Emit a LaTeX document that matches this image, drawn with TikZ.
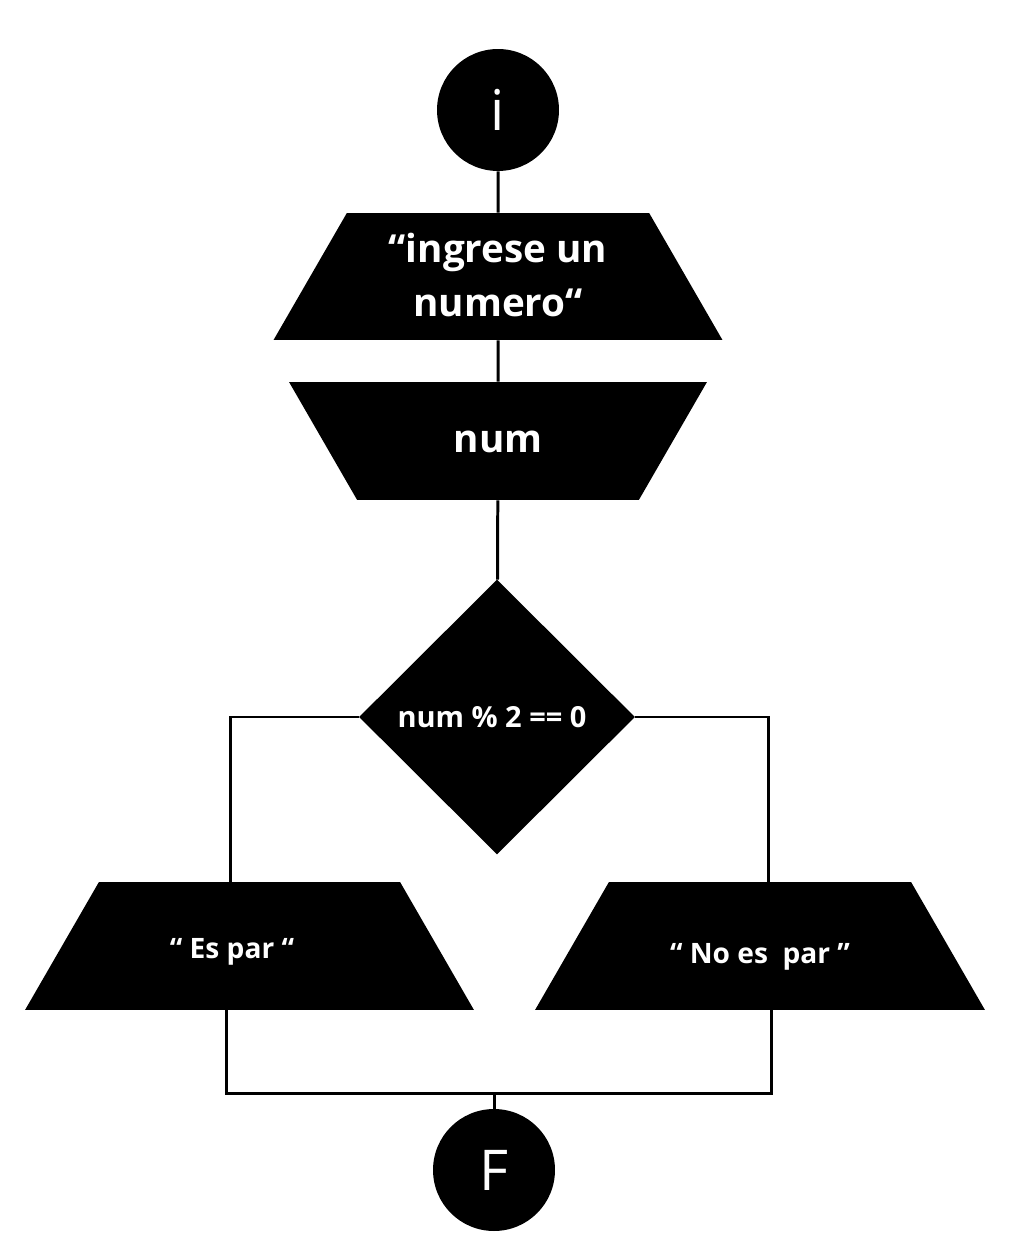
\documentclass[tikz,border=0pt]{standalone}
\usepackage{fontspec}
\setmainfont{Open Sans}
\usetikzlibrary{shapes.geometric, positioning}

\tikzset{
  terminal/.style={circle, fill=black, text=white, minimum size=2.44cm, inner sep=0pt, font=\fontsize{32}{38}\selectfont},
  datos/.style={trapezium, trapezium angle=60, trapezium stretches body=true, fill=black, text=white, inner sep=0pt, font=\bfseries\fontsize{22}{30}\selectfont},
  decision/.style={diamond, fill=black, text=white, inner sep=0pt, minimum width=5.52cm, minimum height=5.5cm, font=\bfseries\fontsize{16.5}{20}\selectfont},
  linea/.style={line width=1.7pt}
}

\begin{document}
\begin{tikzpicture}[x=0.02cm, y=-0.02cm]
    \useasboundingbox (0,0) rectangle (1032,1236);
    \node[terminal] (ini) at (498,110) {i};
    \node[datos, minimum width=8.98cm, text height=1.50cm, text depth=1.04cm] (pide) at (498,276.5) {\begin{tabular}{@{}c@{}}“ingrese un\\[1pt]numero“\end{tabular}};
    \node[datos, shape border rotate=180, minimum width=8.36cm, text height=1.41cm, text depth=0.95cm] (lee) at (498,441) {num};
    \node[decision] (cond) at (497,717) {num \% 2 == 0\kern0.2cm};
    \node[datos, minimum width=8.98cm, text height=1.52cm, text depth=1.04cm, font=\bfseries\fontsize{16}{20}\selectfont] (par) at (249.5,946) {“ Es par “\kern0.7cm};
    \node[datos, minimum width=9cm, text height=1.62cm, text depth=0.94cm, font=\bfseries\fontsize{16}{20}\selectfont] (nopar) at (760,946) {“ No es\ \ par ”};
    \node[terminal] (fin) at (494,1170) {F};
    \coordinate (junta) at (494,1093);
    \draw[linea] (ini) -- (pide);
    \draw[linea] (pide) -- (lee);
    \draw[linea] (lee) -- (cond);
    \draw[linea] (cond.west) -| ([xshift=-0.39cm]par.north);
    \draw[linea] (cond.east) -| ([xshift=0.16cm]nopar.north);
    \draw[linea] ([xshift=-0.47cm]par.south) |- (junta) -| ([xshift=0.22cm]nopar.south);
    \draw[linea] (junta) -- (fin);
\end{tikzpicture}
\end{document}
